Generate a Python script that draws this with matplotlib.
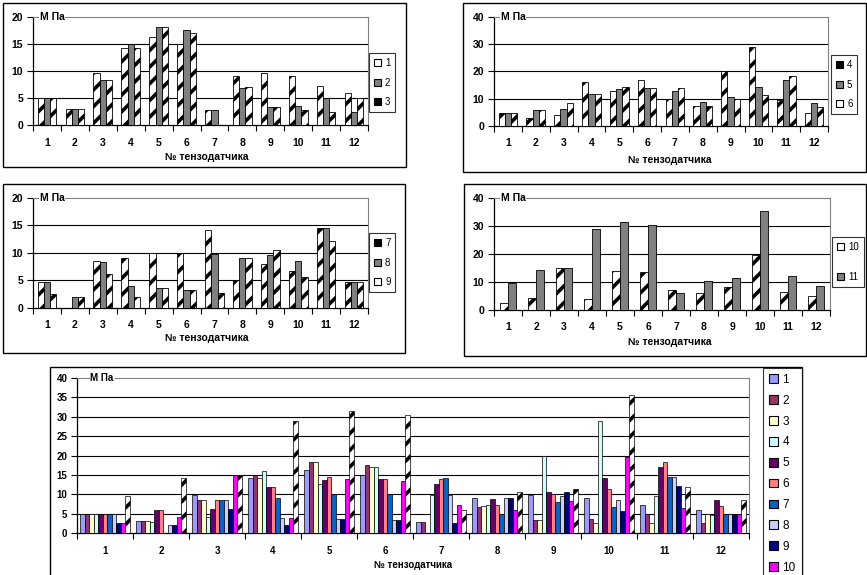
import numpy as np
import matplotlib.pyplot as plt
from matplotlib.patches import Rectangle, Patch

plt.rcParams['font.family'] = ['Liberation Sans', 'DejaVu Sans']
plt.rcParams['hatch.linewidth'] = 2.6

W, H = 867, 575

sensors = [str(i) for i in range(1, 13)]

# stresses, MPa, per loading case (series 1..11)
s1 = [5, 3, 9.7, 14.2, 16.3, 15, 2.8, 9, 9.7, 9, 7.3, 6]
s2 = [5, 3, 8.4, 15, 18.2, 17.6, 2.8, 6.8, 3.4, 3.6, 5, 2.5]
s3 = [5, 3, 8.4, 14.2, 18.2, 17, 0, 7, 3.4, 2.7, 2.5, 5]
s4 = [4.8, 2.8, 4.2, 16, 12.7, 17, 9.8, 7.2, 20, 29, 9.6, 4.6]
s5 = [4.8, 6, 6.3, 11.8, 13.7, 14, 12.7, 8.7, 10.6, 14.3, 17, 8.6]
s6 = [4.8, 6, 8.5, 11.8, 14.4, 14, 14, 7.2, 10, 11.3, 18.3, 7]
s7 = [4.8, 0, 8.5, 9, 10, 10, 14.2, 5, 8, 6.8, 14.5, 4.8]
s8 = [4.8, 2, 8.4, 4, 3.6, 3.3, 9.8, 9, 9.6, 8.5, 14.5, 4.8]
s9 = [2.5, 2, 6.2, 2, 3.6, 3.3, 2.7, 9, 10.6, 5.6, 12.2, 4.8]
s10 = [2.5, 4.2, 15, 4, 14, 13.5, 7.3, 6, 8.2, 19.7, 6.4, 5]
s11 = [9.5, 14.2, 15, 29, 31.5, 30.5, 6, 10.5, 11.4, 35.5, 12, 8.4]

all_series = [s1, s2, s3, s4, s5, s6, s7, s8, s9, s10, s11]
names = [str(i) for i in range(1, 12)]

bottom_colors = ['#9999FF', '#993366', '#FFFFCC', '#CCFFFF', '#660066', '#FF8080',
                 '#0066CC', '#CCCCFF', '#000080', '#FF00FF', 'white']

HW = {'facecolor': 'white', 'hatch': '//'}
HK = {'facecolor': 'white', 'hatch': '//'}
GR = {'facecolor': '#808080'}

fig = plt.figure(figsize=(W / 100, H / 100), dpi=100)


def px_rect(l, t, r, b):
    return [l / W, 1 - b / H, (r - l) / W, (b - t) / H]


def frame(l, t, r, b):
    fig.add_artist(Rectangle((l / W, 1 - b / H), (r - l) / W, (b - t) / H,
                             transform=fig.transFigure, fill=False,
                             edgecolor='black', lw=1.0))


def panel(rect, idx, styles, leg_faces, ymax, step, leg_pos, xlab_pos,
          fs=7.5, leg_fs=7, leg_space=1.0, bar_lw=0.6, leg_n=None):
    ax = fig.add_axes(px_rect(*rect))
    n = len(idx)
    x = np.arange(12)
    group = n / (n + 1.5)
    w = group / n
    for i, (k, st) in enumerate(zip(idx, styles)):
        off = -group / 2 + w * (i + 0.5)
        ax.bar(x + off, all_series[k], w, zorder=3, linewidth=bar_lw,
               edgecolor='black', **st)

    ax.set_xlim(-0.5, 11.5)
    ax.set_ylim(0, ymax)
    yt = np.arange(0, ymax + 1, step)
    ax.set_yticks(yt)
    ax.set_yticklabels([str(int(v)) for v in yt], fontsize=fs, fontweight='bold')
    for v in yt[1:-1]:
        ax.axhline(v, color='black', lw=0.8, zorder=1)
    ax.set_xticks(x)
    ax.set_xticklabels(sensors, fontsize=fs, fontweight='bold')
    ax.set_xticks(np.arange(-0.5, 12, 1), minor=True)
    ax.tick_params(axis='x', which='major', length=0, pad=9)
    ax.tick_params(axis='x', which='minor', length=4, direction='out', width=0.8)
    ax.tick_params(axis='y', length=4, direction='out', width=0.8, pad=3)
    for s in ['top', 'right']:
        ax.spines[s].set_color('#808080')
        ax.spines[s].set_linewidth(0.8)
    for s in ['left', 'bottom']:
        ax.spines[s].set_color('black')
        ax.spines[s].set_linewidth(0.9)

    ax.text(0.02, 1.0, 'М Па', transform=ax.transAxes, fontsize=fs,
            fontweight='bold', va='center', ha='left', zorder=6, clip_on=False,
            bbox=dict(facecolor='white', edgecolor='none', pad=0.6))

    fig.text(xlab_pos[0] / W, 1 - xlab_pos[1] / H, '№ тензодатчика',
             fontsize=fs, fontweight='bold', ha='center', va='center')

    # the bottom chart's legend is cut by the picture edge after entry 10
    shown = idx if leg_n is None else idx[:leg_n]
    handles = [Patch(facecolor=leg_faces[j], edgecolor='black', lw=0.8)
               for j in range(len(shown))]
    leg = fig.legend(handles, [names[k] for k in shown], loc='upper left',
                     bbox_to_anchor=(leg_pos[0] / W, 1 - leg_pos[1] / H),
                     frameon=True, fancybox=False, edgecolor='black',
                     borderaxespad=0, fontsize=leg_fs, handlelength=0.75,
                     handleheight=0.75, handletextpad=0.4,
                     labelspacing=leg_space, borderpad=0.5)
    leg.get_frame().set_linewidth(0.8)
    return ax


# top-left: series 1-3
frame(3, 3, 406, 167)
panel((33, 17, 368, 125), [0, 1, 2], [HW, GR, HK], ['white', '#808080', 'black'],
      20, 5, (369, 53), (207, 157))

# top-right: series 4-6
frame(463, 3, 866, 172)
panel((494, 17, 828, 126), [3, 4, 5], [HK, GR, HW], ['black', '#808080', 'white'],
      40, 10, (831, 55), (670, 160))

# middle-left: series 7-9
frame(3, 184, 405, 353)
panel((33, 198, 368, 308), [6, 7, 8], [HK, GR, HW], ['black', '#808080', 'white'],
      20, 5, (369, 233), (207, 338))

# middle-right: series 10-11
frame(464, 184, 866, 356)
panel((494, 198, 830, 310), [9, 10], [HW, GR], ['white', '#808080'],
      40, 10, (832, 237), (670, 342), leg_space=2.1)

# bottom: all series
frame(50, 367, 802, 590)
bottom_styles = [{'facecolor': c} for c in bottom_colors[:10]] + [HK]
panel((77, 378, 749, 533), list(range(11)), bottom_styles, bottom_colors,
      40, 5, (763, 368), (413, 565), fs=7, leg_fs=8.5, leg_space=0.75,
      bar_lw=0.5, leg_n=10)

fig.savefig('out.png', dpi=100)
